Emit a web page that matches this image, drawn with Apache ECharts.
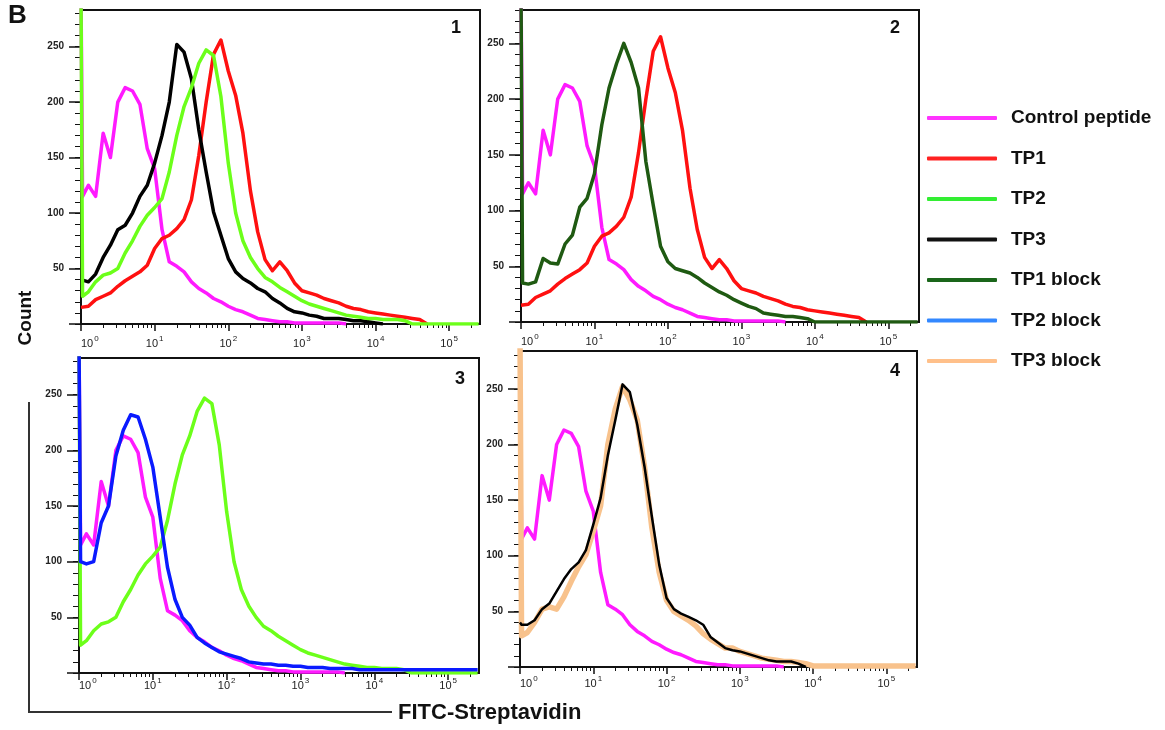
<!DOCTYPE html>
<html>
<head>
<meta charset="utf-8">
<script src="https://cdn.jsdelivr.net/npm/echarts@6/dist/echarts.min.js"></script>
<style>
html,body{margin:0;padding:0;background:#fff;}
#chart{width:1165px;height:730px;}
</style>
</head>
<body>
<div id="chart"></div>
<script>
// ---------- DATA ----------
// FITC channel value (x) of every histogram point
const xs = [1, 1.05, 1.26, 1.58, 2, 2.51, 3.16, 3.98, 5.01, 6.31, 7.94, 10, 12.6, 15.8, 20, 25.1, 31.6, 39.8, 50.1, 63.1, 79.4,
  100, 126, 158, 200, 251, 316, 398, 501, 631, 794, 1000, 1259, 1585, 1995, 2512, 3162, 3981, 5012, 6310, 7943,
  10000, 12589, 15849, 19953, 25119, 31623, 39811, 50119, 63096, 79433, 100000, 125893, 158489, 199526, 251189];

// counts per series
const controlPeptide = [300, 115, 125, 115, 172, 150, 200, 213, 210, 198, 158, 140, 85, 56, 52, 47, 38, 32, 28, 23, 20,
  16, 13, 11, 8, 5, 4, 3, 2, 2, 1, 1, 1, 1, 1, 1, 1, 0, null, null,
  null, null, null, null, null, null, null, null, null, null, null, null, null, null, null, null];
const tp1 = [15, 14, 16, 22, 25, 28, 34, 39, 43, 47, 53, 68, 77, 80, 86, 94, 112, 152, 200, 243, 256,
  228, 206, 172, 120, 83, 58, 48, 56, 48, 37, 30, 28, 26, 23, 21, 19, 16, 14, 13,
  11, 10, 9, 8, 7, 6, 5, 4, 0, null, null, null, null, null, null, null];
const tp2 = [300, 25, 29, 38, 44, 46, 50, 64, 75, 88, 98, 105, 113, 137, 170, 196, 213, 235, 247, 242, 205,
  145, 100, 75, 60, 50, 42, 38, 33, 29, 25, 21, 18, 16, 14, 12, 10, 8, 7, 6,
  5, 5, 4, 4, 4, 3, 0, 0, 0, 0, 0, 0, 0, 0, 0, 0];
const tp3 = [40, 40, 38, 45, 60, 71, 85, 89, 100, 115, 125, 145, 170, 200, 252, 245, 221, 175, 137, 101, 80,
  59, 47, 41, 37, 32, 29, 23, 19, 14, 11, 10, 8, 7, 5, 5, 5, 4, 3, 3,
  2, 1, 0, null, null, null, null, null, null, null, null, null, null, null, null, null];
const tp3Panel4 = [40, 38, 38, 42, 52, 57, 68, 79, 88, 94, 105, 128, 152, 190, 222, 254, 247, 218, 180, 135, 92,
  62, 52, 48, 45, 42, 38, 27, 22, 17, 15, 14, 12, 10, 8, 6, 5, 5, 5, 3,
  0, null, null, null, null, null, null, null, null, null, null, null, null, null, null, null];
const tp1Block = [300, 35, 34, 36, 57, 53, 52, 70, 78, 103, 111, 133, 177, 210, 232, 250, 233, 210, 144, 105, 68,
  54, 48, 46, 44, 40, 35, 31, 27, 24, 20, 17, 14, 12, 8, 7, 6, 5, 5, 4,
  3, 0, 0, 0, 0, 0, 0, 0, 0, 0, 0, 0, 0, 0, 0, 0];
const tp2Block = [300, 100, 98, 100, 135, 150, 195, 218, 232, 230, 210, 185, 140, 95, 66, 50, 43, 32, 27, 23, 19,
  17, 15, 13, 10, 9, 8, 8, 7, 7, 6, 6, 5, 5, 5, 4, 4, 4, 4, 3,
  3, 3, 3, 3, 3, 3, 3, 3, 3, 3, 3, 3, 3, 3, 3, 3];
const tp3Block = [300, 28, 31, 40, 52, 54, 52, 63, 77, 90, 101, 122, 145, 200, 232, 252, 240, 222, 180, 125, 85,
  60, 50, 46, 42, 37, 30, 25, 21, 17, 17, 14, 12, 10, 8, 7, 6, 5, 5, 4,
  3, 1, 1, 1, 1, 1, 1, 1, 1, 1, 1, 1, 1, 1, 1, 1];

// axis ticks / labels
const xDecades = [1, 10, 100, 1000, 10000, 100000];
const yMajorTicks = [0, 50, 100, 150, 200, 250];
const yTickLabels = [50, 100, 150, 200, 250];
const panelNames = ['1', '2', '3', '4'];
const legendNames = ['Control peptide', 'TP1', 'TP2', 'TP3', 'TP1 block', 'TP2 block', 'TP3 block'];

// ---------- STYLE / LAYOUT ----------
const FONT = '"Liberation Sans", Arial, Helvetica, sans-serif';
const X_MAX = 262144;
const lineColor = {
  'Control peptide': '#ff1aff', 'TP1': '#ff1010', 'TP2': '#6cff1a', 'TP3': '#000000',
  'TP1 block': '#1f5a12', 'TP2 block': '#0a1aff', 'TP3 block': '#f8c28c'
};
const legendColor = {
  'Control peptide': '#ff33ff', 'TP1': '#ff2222', 'TP2': '#33ee33', 'TP3': '#111111',
  'TP1 block': '#1a661a', 'TP2 block': '#3388ff', 'TP3 block': '#ffc08a'
};
const panels = [
  {left: 81, top: 10, width: 399, height: 314, yMax: 283, num: [456, 28], xLabelMargin: 11},
  {left: 521, top: 10, width: 398, height: 312, yMax: 280, num: [895, 28], xLabelMargin: 11},
  {left: 79, top: 358, width: 400, height: 315, yMax: 283, num: [460, 379], xLabelMargin: 4},
  {left: 520, top: 351, width: 397, height: 316, yMax: 284, num: [895, 371], xLabelMargin: 8}
];

const xMinorTicks = [];
for (let d = 1; d <= 100000; d *= 10) {
  for (let m = 2; m <= 9; m++) { if (m * d <= X_MAX) xMinorTicks.push(m * d); }
}

const grids = [], xAxes = [], yAxes = [];
panels.forEach((p, i) => {
  grids.push({left: p.left, top: p.top, width: p.width, height: p.height, show: true,
    borderColor: '#111', borderWidth: 2, backgroundColor: 'transparent', outerBoundsMode: 'none', containLabel: false});
  const yMinor = [];
  for (let v = 0; v <= p.yMax; v += 10) yMinor.push(v);
  xAxes.push({
    type: 'log', gridIndex: i, position: 'bottom', min: 1, max: X_MAX, logBase: 10,
    axisLine: {show: true, lineStyle: {color: '#111', width: 2}},
    axisTick: {show: true, customValues: xDecades, length: 7, lineStyle: {color: '#111', width: 1.5}},
    axisLabel: {
      show: true, customValues: xDecades, margin: p.xLabelMargin, alignMinLabel: 'left',
      formatter: v => '{b|10}{s|' + Math.round(Math.log10(v)) + '}',
      rich: {
        b: {fontSize: 11, color: '#222', fontFamily: FONT, verticalAlign: 'bottom'},
        s: {fontSize: 8, color: '#222', fontFamily: FONT, padding: [0, 0, 6, 1], verticalAlign: 'bottom'}
      }
    },
    splitLine: {show: false}
  });
  xAxes.push({
    type: 'log', gridIndex: i, position: 'bottom', min: 1, max: X_MAX, logBase: 10,
    axisLine: {show: false},
    axisTick: {show: true, customValues: xMinorTicks, length: 4, lineStyle: {color: '#111', width: 1}},
    axisLabel: {show: false},
    splitLine: {show: false}
  });
  yAxes.push({
    type: 'value', gridIndex: i, position: 'left', min: 0, max: p.yMax,
    axisLine: {show: true, lineStyle: {color: '#111', width: 2}},
    axisTick: {show: true, customValues: yMajorTicks, length: 12, lineStyle: {color: '#111', width: 1.5}},
    axisLabel: {show: true, customValues: yTickLabels, margin: 17, fontSize: 10, fontWeight: 'bold', color: '#222', fontFamily: FONT},
    splitLine: {show: false}
  });
  yAxes.push({
    type: 'value', gridIndex: i, position: 'left', min: 0, max: p.yMax,
    axisLine: {show: false},
    axisTick: {show: true, customValues: yMinor, length: 6, lineStyle: {color: '#111', width: 1}},
    axisLabel: {show: false},
    splitLine: {show: false}
  });
});

function pairs(counts) { return xs.map((x, i) => [x, counts[i]]); }
function hist(panel, name, counts, width, z) {
  return {
    type: 'line', name: name, xAxisIndex: panel * 2, yAxisIndex: panel * 2,
    data: pairs(counts), showSymbol: false, symbol: 'none', clip: true, connectNulls: false,
    lineStyle: {color: lineColor[name], width: width || 3.5, join: 'round'},
    itemStyle: {color: lineColor[name]},
    z: z || 2, animation: false, silent: true
  };
}

const series = [
  hist(0, 'Control peptide', controlPeptide),
  hist(0, 'TP1', tp1),
  hist(0, 'TP3', tp3),
  hist(0, 'TP2', tp2),
  hist(1, 'Control peptide', controlPeptide),
  hist(1, 'TP1', tp1),
  hist(1, 'TP1 block', tp1Block),
  hist(2, 'Control peptide', controlPeptide),
  hist(2, 'TP2', tp2),
  hist(2, 'TP2 block', tp2Block),
  hist(3, 'Control peptide', controlPeptide),
  hist(3, 'TP3 block', tp3Block, 5.5),
  hist(3, 'TP3', tp3Panel4, 2.5, 3)
];

const graphics = [
  {type: 'text', x: 8, y: 3, style: {text: 'B', font: 'bold 26px ' + FONT, fill: '#111'}},
  {type: 'text', x: 26, y: 318, rotation: Math.PI / 2,
    style: {text: 'Count', font: 'bold 19px ' + FONT, fill: '#111', align: 'center', verticalAlign: 'middle', textAlign: 'center', textVerticalAlign: 'middle'}},
  {type: 'polyline', shape: {points: [[29, 402], [29, 712], [392, 712]]}, style: {stroke: '#333', lineWidth: 2, fill: null}},
  {type: 'text', x: 398, y: 713,
    style: {text: 'FITC-Streptavidin', font: 'bold 22px ' + FONT, fill: '#111', verticalAlign: 'middle', textVerticalAlign: 'middle'}}
];
panels.forEach((p, i) => {
  graphics.push({type: 'text', x: p.num[0], y: p.num[1], z: 10,
    style: {text: panelNames[i], font: 'bold 18px ' + FONT, fill: '#111', align: 'center', verticalAlign: 'middle', textAlign: 'center', textVerticalAlign: 'middle'}});
});

const chart = echarts.init(document.getElementById('chart'), null, {renderer: 'canvas'});
chart.setOption({
  backgroundColor: '#ffffff',
  animation: false,
  grid: grids,
  xAxis: xAxes,
  yAxis: yAxes,
  legend: {
    orient: 'vertical', left: 927, top: 108, padding: 0, itemWidth: 70, itemHeight: 4, itemGap: 20.5,
    icon: 'roundRect',
    textStyle: {fontSize: 19, fontWeight: 'bold', color: '#111', fontFamily: FONT, lineHeight: 20, padding: [0, 0, 0, 9]},
    data: legendNames.map(n => ({name: n, itemStyle: {color: legendColor[n]}}))
  },
  graphic: graphics,
  series: series
});
</script>
</body>
</html>
